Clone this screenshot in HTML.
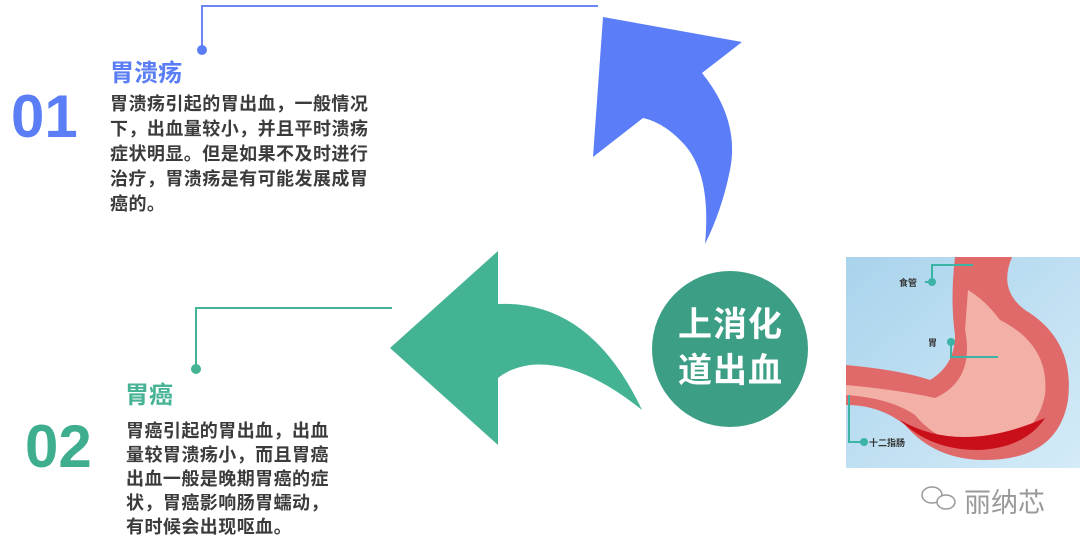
<!DOCTYPE html>
<html><head><meta charset="utf-8"><style>
body{margin:0;width:1080px;height:548px;background:#fff;position:relative;overflow:hidden;font-family:"Liberation Sans","Noto Sans CJK SC",sans-serif}
.a{position:absolute;white-space:nowrap}
.body{font-size:18px;font-weight:bold;color:#3b3b3b;line-height:25px;letter-spacing:0.45px}
</style></head><body>
<svg class="a" style="left:0;top:0" width="1080" height="548">
<polyline points="598,6 202,6 202,50" fill="none" stroke="#6b86f5" stroke-width="2"/>
<circle cx="202" cy="50" r="5" fill="#5b7ef6"/>
<polyline points="392,308 196,308 196,369" fill="none" stroke="#45b394" stroke-width="2"/>
<circle cx="196" cy="369" r="5" fill="#45b394"/>
<path d="M603,17 L742,42 L702,73 Q740,120 730,170 Q722,210 705,244 Q712,170 680,140 Q662,122 643,118 L593,157 Z" fill="#5b7ef8"/>
<path d="M390,348 L498,251 L498,304 Q590,300 642,410 Q580,360 530,365 Q510,368 498,378 L498,445 Z" fill="#43b394"/>
<circle cx="730" cy="349" r="78" fill="#3c9e85"/>
<defs><linearGradient id="g" x1="0" y1="0" x2="1" y2="1"><stop offset="0" stop-color="#a9d3ec"/><stop offset="1" stop-color="#d4ebf8"/></linearGradient></defs>
<rect x="846" y="257" width="234" height="211" fill="url(#g)"/>
<path d="M955,257 L1012,257 Q998,290 1025,310 Q1075,340 1068,400 Q1058,460 985,460 Q935,460 905,425 Q880,405 846,405 L846,365 Q900,370 930,380 Q955,365 955,335 Q950,300 955,257 Z" fill="#e06a6a"/>
<path d="M968,290 Q985,300 1000,320 Q1050,345 1045,395 Q1035,445 978,445 Q940,445 915,415 Q890,398 846,395 L846,385 Q900,390 935,398 Q975,380 965,330 Z" fill="#f3b0a6"/>
<path d="M900,420 Q960,455 1045,418 Q1025,448 978,450 Q930,450 900,420Z" fill="#c9101a"/>
<polyline points="925,282 932,282 932,265 973,265" fill="none" stroke="#3bb3a5" stroke-width="2"/>
<circle cx="932" cy="282" r="4" fill="#3bb3a5"/>
<polyline points="951,342 951,357 998,357" fill="none" stroke="#3bb3a5" stroke-width="2"/>
<circle cx="951" cy="342" r="4" fill="#3bb3a5"/>
<polyline points="849,395 849,442 862,442" fill="none" stroke="#3bb3a5" stroke-width="2"/>
<circle cx="864" cy="442" r="4" fill="#3bb3a5"/>
<ellipse cx="932" cy="495" rx="10" ry="8" fill="none" stroke="#999" stroke-width="1.5"/>
<ellipse cx="946" cy="502" rx="9" ry="7" fill="#fff" stroke="#999" stroke-width="1.5"/>
</svg>
<div class="a" style="left:899px;top:276px;font-size:9px;color:#333;font-weight:bold">食管</div>
<div class="a" style="left:928px;top:336px;font-size:9px;color:#333;font-weight:bold">胃</div>
<div class="a" style="left:869px;top:436px;font-size:9px;color:#333;font-weight:bold">十二指肠</div>
<div class="a" style="left:964px;top:481px;font-size:27px;color:#999">丽纳芯</div>
<div class="a" style="left:678px;top:302px;font-size:34px;line-height:46px;font-weight:bold;color:#fff;text-align:center;letter-spacing:1px">上消化<br>道出血</div>
<div class="a" style="left:110px;top:53px;font-size:24px;font-weight:bold;color:#5b7ef6">胃溃疡</div>
<div class="a" style="left:11px;top:82px;font-size:60px;font-weight:bold;color:#5b7ef6">01</div>
<div class="a body" style="left:110px;top:92px">胃溃疡引起的胃出血，一般情况<br>下，出血量较小，并且平时溃疡<br>症状明显。但是如果不及时进行<br>治疗，胃溃疡是有可能发展成胃<br>癌的。</div>
<div class="a" style="left:125px;top:375px;font-size:24px;font-weight:bold;color:#45b394">胃癌</div>
<div class="a" style="left:25px;top:412px;font-size:60px;font-weight:bold;color:#3fae8f">02</div>
<div class="a body" style="left:126px;top:419px;line-height:24px">胃癌引起的胃出血，出血<br>量较胃溃疡小，而且胃癌<br>出血一般是晚期胃癌的症<br>状，胃癌影响肠胃蠕动，<br>有时候会出现呕血。</div>
</body></html>
